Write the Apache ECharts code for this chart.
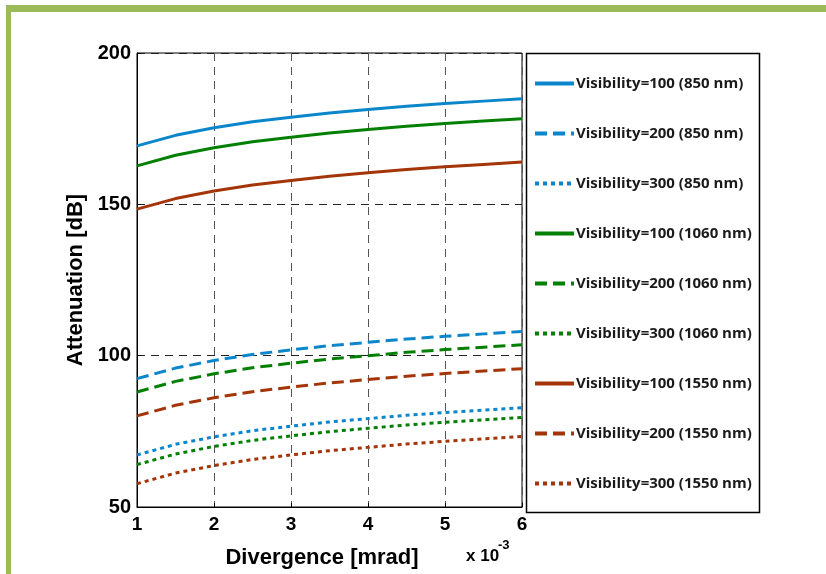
<!DOCTYPE html>
<html>
<head>
<meta charset="utf-8">
<script src="https://cdn.jsdelivr.net/npm/echarts@6/dist/echarts.min.js"></script>
<style>
  html, body { margin: 0; padding: 0; background: #fff; }
  #chart { width: 826px; height: 574px; }
</style>
</head>
<body>
<div id="chart"></div>
<script>
// divergence (x 10^-3 rad)
const divergence = [1, 1.5, 2, 2.5, 3, 3.5, 4, 4.5, 5, 5.5, 6];

// attenuation values [dB]
const v100_850  = [169.3, 172.8, 175.3, 177.3, 178.8, 180.2, 181.3, 182.4, 183.3, 184.1, 184.9];
const v200_850  = [92.4, 95.9, 98.4, 100.4, 101.9, 103.3, 104.4, 105.5, 106.4, 107.2, 108.0];
const v300_850  = [67.2, 70.7, 73.2, 75.2, 76.7, 78.1, 79.2, 80.3, 81.2, 82.0, 82.8];
const v100_1060 = [162.7, 166.2, 168.7, 170.7, 172.2, 173.6, 174.7, 175.8, 176.7, 177.5, 178.3];
const v200_1060 = [88.0, 91.5, 94.0, 96.0, 97.5, 98.9, 100.0, 101.1, 102.0, 102.8, 103.6];
const v300_1060 = [64.0, 67.5, 70.0, 72.0, 73.5, 74.9, 76.0, 77.1, 78.0, 78.8, 79.6];
const v100_1550 = [148.4, 151.9, 154.4, 156.4, 157.9, 159.3, 160.4, 161.5, 162.4, 163.2, 164.0];
const v200_1550 = [80.1, 83.6, 86.1, 88.1, 89.6, 91.0, 92.1, 93.2, 94.1, 94.9, 95.7];
const v300_1550 = [57.7, 61.2, 63.7, 65.7, 67.2, 68.6, 69.7, 70.8, 71.7, 72.5, 73.3];

const seriesNames = [
  'Visibility=100 (850 nm)', 'Visibility=200 (850 nm)', 'Visibility=300 (850 nm)',
  'Visibility=100 (1060 nm)', 'Visibility=200 (1060 nm)', 'Visibility=300 (1060 nm)',
  'Visibility=100 (1550 nm)', 'Visibility=200 (1550 nm)', 'Visibility=300 (1550 nm)'
];
const seriesData = [v100_850, v200_850, v300_850, v100_1060, v200_1060, v300_1060, v100_1550, v200_1550, v300_1550];

const colors = ['#0b86cb', '#0b86cb', '#0b86cb', '#038003', '#038003', '#038003', '#a33508', '#a33508', '#a33508'];
const dashes = ['solid', [12, 6], [4, 4]];

const chart = echarts.init(document.getElementById('chart'));

const series = seriesData.map(function (vals, i) {
  return {
    name: seriesNames[i],
    type: 'line',
    symbol: 'none',
    animation: false,
    data: vals.map(function (v, k) { return [divergence[k], v]; }),
    lineStyle: { color: colors[i], width: 3, type: dashes[i % 3] },
    itemStyle: { color: colors[i] }
  };
});

const option = {
  backgroundColor: '#fff',
  animation: false,
  grid: {
    left: 137, top: 53, width: 385, height: 459,
    show: true, borderColor: '#000', borderWidth: 1
  },
  legend: {
    orient: 'vertical',
    left: 533, top: 76,
    padding: 0,
    itemWidth: 39, itemHeight: 14, itemGap: 35,
    itemStyle: { opacity: 0, borderWidth: 0 },
    lineStyle: { width: 4 },
    textStyle: { fontFamily: 'Open Sans', fontWeight: 'bold', fontSize: 15, color: '#1a1a1a', padding: [0, 0, 0, -3] },
    data: seriesNames
  },
  xAxis: {
    type: 'value',
    min: 1, max: 6, interval: 1,
    name: 'Divergence [mrad]',
    nameLocation: 'middle',
    nameGap: 40,
    nameTextStyle: { fontFamily: 'Liberation Sans', fontWeight: 'bold', fontSize: 22, color: '#000', padding: [0, 15, 0, 0] },
    axisLine: { lineStyle: { color: '#000' } },
    axisTick: { inside: true, length: 4, lineStyle: { color: '#000' } },
    axisLabel: { fontFamily: 'Liberation Sans', fontWeight: 'bold', fontSize: 19, color: '#000', margin: 8 },
    splitLine: { show: true, lineStyle: { color: '#555', type: [8, 6], width: 1 } }
  },
  yAxis: {
    type: 'value',
    min: 50, max: 200, interval: 50,
    name: 'Attenuation [dB]',
    nameLocation: 'middle',
    nameGap: 50,
    nameTextStyle: { fontFamily: 'Liberation Sans', fontWeight: 'bold', fontSize: 22, color: '#000' },
    axisLine: { lineStyle: { color: '#000' } },
    axisTick: { inside: true, length: 4, lineStyle: { color: '#000' } },
    axisLabel: { fontFamily: 'Liberation Sans', fontWeight: 'bold', fontSize: 20, color: '#000', margin: 6 },
    splitLine: { show: true, lineStyle: { color: '#222', type: [8, 6], width: 1 } }
  },
  graphic: [
    { type: 'rect', shape: { x: 6, y: 5, width: 830, height: 7 }, style: { fill: '#9bbb59' }, silent: true },
    { type: 'rect', shape: { x: 6, y: 5, width: 5, height: 580 }, style: { fill: '#9bbb59' }, silent: true },
    { type: 'rect', shape: { x: 526.5, y: 53.5, width: 233, height: 459 }, style: { fill: 'none', stroke: '#000', lineWidth: 1.5 }, silent: true },
    { type: 'text', left: 466, top: 548, style: { text: 'x 10', fontFamily: 'Liberation Sans', fontWeight: 'bold', fontSize: 17, fill: '#000' } },
    { type: 'text', left: 498, top: 539, style: { text: '-3', fontFamily: 'Liberation Sans', fontWeight: 'bold', fontSize: 13, fill: '#000' } }
  ],
  series: series
};

chart.setOption(option);
</script>
</body>
</html>
